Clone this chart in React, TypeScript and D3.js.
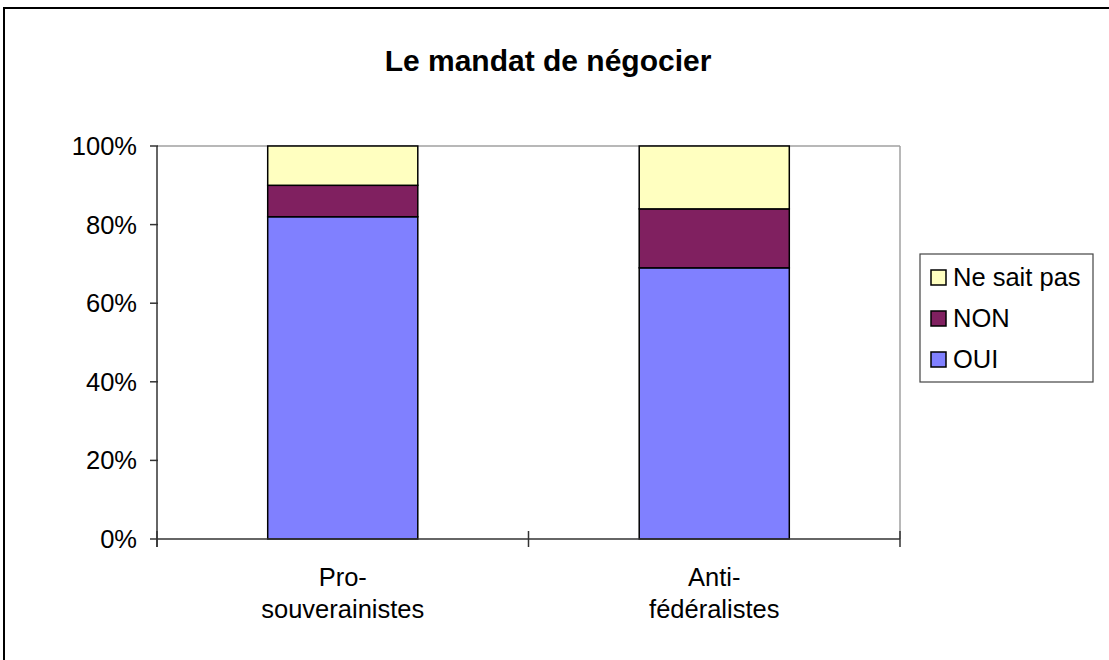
import React from "react";
import * as d3 from "d3";

const title = "Le mandat de négocier";
const categories = ["Pro-souverainistes", "Anti-fédéralistes"];
const categoryLines = [["Pro-", "souverainistes"], ["Anti-", "fédéralistes"]];
const seriesNames = ["OUI", "NON", "Ne sait pas"];
const oui = [82, 69];
const non = [8, 15];
const nsp = [10, 16];
const yTicks = [0, 20, 40, 60, 80, 100];
const colors = ["#8080FF", "#802060", "#FFFFC0"];

export default function App() {
  const W = 1109, H = 660;
  const left = 157, right = 900, top = 146, bottom = 539;
  const font = "'Liberation Sans', Arial, sans-serif";

  const rows = categories.map((c, i) => ({ cat: c, OUI: oui[i], NON: non[i], "Ne sait pas": nsp[i] }));
  const stacked = d3.stack<any>().keys(seriesNames)(rows);

  const x = d3.scaleBand().domain(categories).range([left, right]).paddingInner(0).paddingOuter(0);
  const y = d3.scaleLinear().domain([0, 100]).range([bottom, top]);
  const bw = x.bandwidth() * 0.404;

  const legendItems = [...seriesNames].reverse();

  return (
    <svg width={W} height={H} style={{ position: "absolute", left: 0, top: 0, background: "#fff" }} fontFamily={font}>
      <rect x={4} y={8} width={W + 20} height={H + 20} fill="#fff" stroke="#000" strokeWidth={2} />
      <text x={548} y={71} textAnchor="middle" fontSize={30} fontWeight="bold">{title}</text>

      {/* plot frame top/right */}
      <line x1={left} x2={right} y1={top} y2={top} stroke="#a0a0a0" strokeWidth={1.5} />
      <line x1={right} x2={right} y1={top} y2={bottom} stroke="#a0a0a0" strokeWidth={1.5} />

      {stacked.map((s, si) =>
        s.map((d, i) => (
          <rect
            key={si + "-" + i}
            x={(x(categories[i]) as number) + x.bandwidth() / 2 - bw / 2}
            width={bw}
            y={y(d[1])}
            height={y(d[0]) - y(d[1])}
            fill={colors[si]}
            stroke="#000"
            strokeWidth={1.5}
          />
        ))
      )}

      {/* y axis */}
      <line x1={left} x2={left} y1={top} y2={bottom + 8} stroke="#333" strokeWidth={1.5} />
      {yTicks.map((t) => (
        <g key={t}>
          <line x1={left - 7} x2={left + (t === 0 ? 0 : 1)} y1={y(t)} y2={y(t)} stroke="#333" strokeWidth={1.5} />
          <text x={left - 20} y={y(t) + 9} textAnchor="end" fontSize={25.5}>{t + "%"}</text>
        </g>
      ))}

      {/* x axis */}
      <line x1={left} x2={right} y1={bottom} y2={bottom} stroke="#333" strokeWidth={1.5} />
      {[left, ...categories.map((c) => (x(c) as number) + x.bandwidth())].map((px, i) => (
        <line key={i} x1={px} x2={px} y1={bottom - 8} y2={bottom + 8} stroke="#333" strokeWidth={1.5} />
      ))}
      {categories.map((c, i) => (
        <text key={c} x={(x(c) as number) + x.bandwidth() / 2} textAnchor="middle" fontSize={25.5}>
          {categoryLines[i].map((ln, j) => (
            <tspan key={j} x={(x(c) as number) + x.bandwidth() / 2} y={586 + j * 32}>{ln}</tspan>
          ))}
        </text>
      ))}

      {/* legend */}
      <rect x={920} y={254} width={173} height={128} fill="#fff" stroke="#444" strokeWidth={1.2} />
      {legendItems.map((name, i) => {
        const si = seriesNames.indexOf(name);
        const cy = 278 + i * 41;
        return (
          <g key={name}>
            <rect x={931} y={cy - 8} width={15} height={15} fill={colors[si]} stroke="#000" strokeWidth={1.5} />
            <text x={953} y={cy + 8} fontSize={25.5}>{name}</text>
          </g>
        );
      })}
    </svg>
  );
}
